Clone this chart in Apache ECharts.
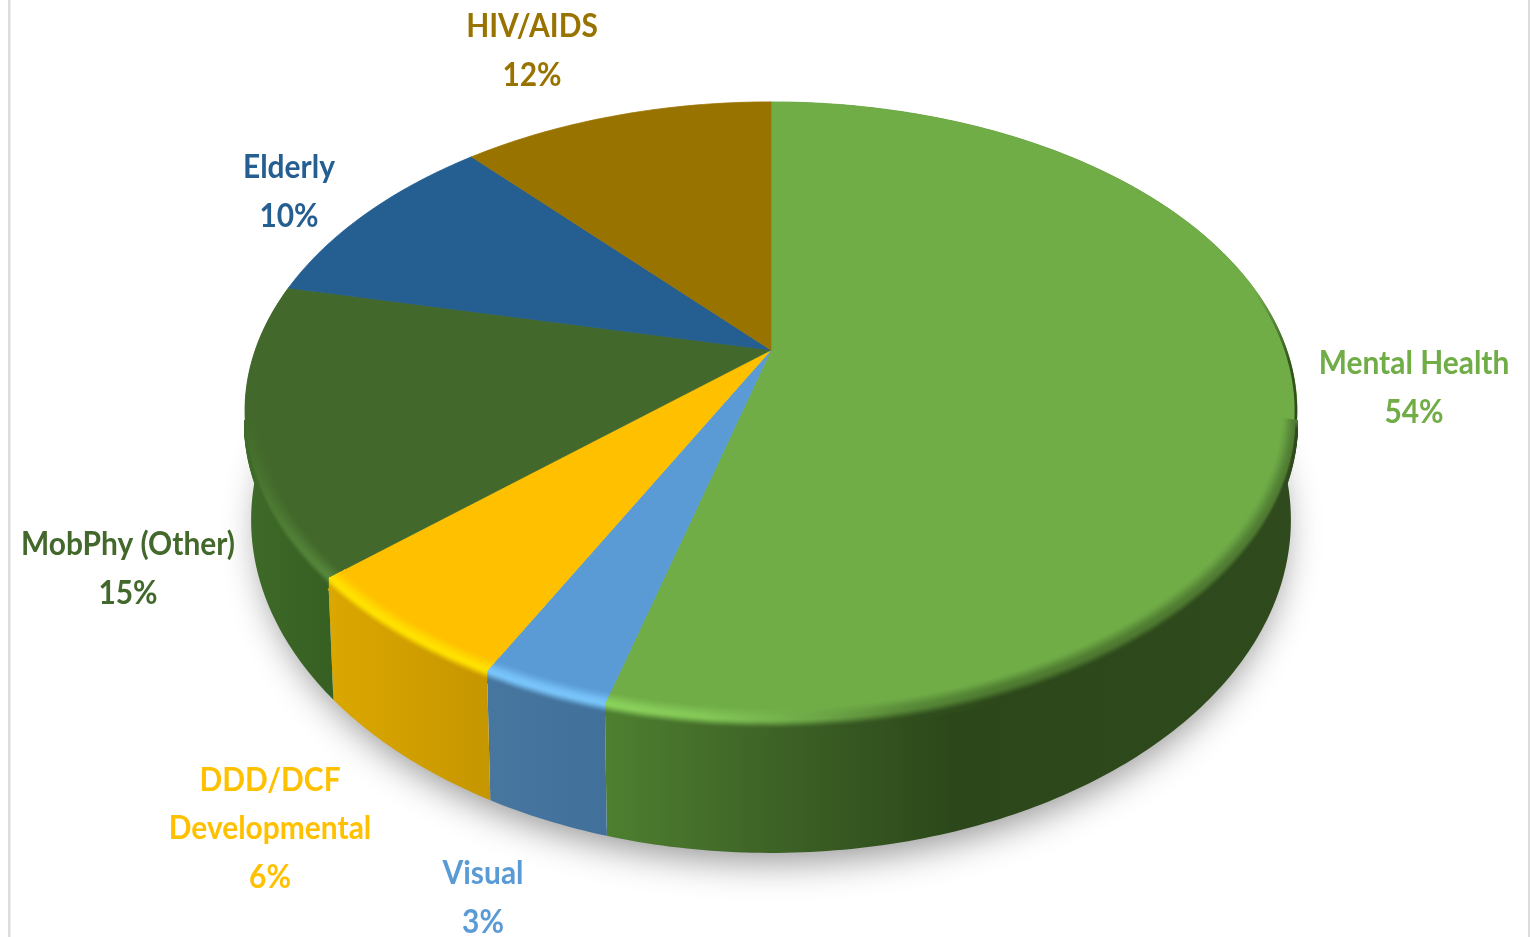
<!DOCTYPE html>
<html>
<head>
<meta charset="utf-8">
<title>Pie</title>
<style>html,body{margin:0;padding:0;background:#fff}#c{width:1530px;height:937px;filter:blur(0.6px)}</style>
<script src="https://cdn.jsdelivr.net/npm/echarts@6/dist/echarts.min.js"></script>
</head>
<body>
<div id="c"></div>
<script>
// ---- data (shares read from the wedges; the printed labels are these values rounded) ----
const categories = ['Mental Health', 'Visual', 'DDD/DCF\nDevelopmental', 'MobPhy (Other)', 'Elderly', 'HIV/AIDS'];
const percentages = [54.2, 3.3, 5.9, 15.1, 9.9, 11.6];

// ---- styles ----
const faceColors = ['#70AD47', '#5B9BD5', '#FFC000', '#43682B', '#255E91', '#997300'];
const glowColors = ['#8BD25C', '#78C4FA', '#FFE100', '#55873A', '#255E91', '#997300'];
const wallRamps = [
  [[0, '#4E8030'], [0.22, '#3F6527'], [0.5, '#2C481A'], [1, '#2F4A1C']],
  [[0, '#47769F'], [1, '#41709B']],
  [[0, '#DBA700'], [1, '#C69600']],
  [[0, '#3F6A28'], [1, '#365F22']],
  [[0, '#1C4A72'], [1, '#1C4A72']],
  [[0, '#735600'], [1, '#735600']]
];
const labelCenters = [[1414, 388], [483, 898], [270, 829], [128, 569], [289, 192], [532, 51]];

// ---- projection of the tilted disc ----
const CX = 771, TILT = 0.197;
const TOP = { y0: 350, a: 515.7, b: 297 };
const BOTTOM = { y0: 454.4, a: 509.7, b: 320 };
const rad = d => d * Math.PI / 180;
function project(ring, deg, r, dy) {
  const t = rad(deg), w = 1 + TILT * r * Math.cos(t);
  return [CX + ring.a * r * Math.sin(t) / w, ring.y0 - ring.b * r * Math.cos(t) / w + (dy || 0)];
}
function arc(ring, from, to, r, dy) {
  const pts = [], n = Math.max(2, Math.ceil(Math.abs(to - from) / 0.75));
  for (let i = 0; i <= n; i++) pts.push(project(ring, from + (to - from) * i / n, r, dy));
  return pts;
}
const total = percentages.reduce((s, v) => s + v, 0);
const startDeg = [];
percentages.reduce((acc, v, i) => { startDeg[i] = acc / total * 360; return acc + v; }, 0);

// ---- colour helpers ----
const rgb = h => [1, 3, 5].map(i => parseInt(h.substr(i, 2), 16));
const mix = (a, b, t) => { const A = rgb(a), B = rgb(b); return '#' + A.map((v, i) => Math.round(v + (B[i] - v) * t).toString(16).padStart(2, '0')).join(''); };
const clamp = v => Math.max(0, Math.min(1, v));
const smooth = v => { v = clamp(v); return v * v * (3 - 2 * v); };
function ramp(stops, t) {
  t = clamp(t);
  for (let i = 1; i < stops.length; i++) {
    if (t <= stops[i][0]) return mix(stops[i - 1][1], stops[i][1], (t - stops[i - 1][0]) / (stops[i][0] - stops[i - 1][0]));
  }
  return stops[stops.length - 1][1];
}
function glowAmount(deg) {
  if (deg < 195) return smooth((deg - 160) / 34);
  if (deg < 229) return 1;
  return 1 - clamp((deg - 229) / 28);
}

function renderSlice(params, api) {
  const i = params.dataIndex, value = api.value(0);
  const a0 = startDeg[i], a1 = a0 + value / total * 360;
  const children = [];

  // soft ground shadow, once
  if (i === 0) {
    children.push({
      type: 'polygon', z2: 0, shape: { points: arc(BOTTOM, 0, 360, 0.985) },
      style: { fill: '#ffffff', shadowBlur: 36, shadowColor: 'rgba(0,0,0,0.42)', shadowOffsetX: 1, shadowOffsetY: 16 }
    });
  }

  // wall
  const wallTop = arc(TOP, a0, a1, 1), wallBot = arc(BOTTOM, a1, a0, 1);
  const front0 = Math.max(a0, 90), front1 = Math.min(a1, 270);
  let wx0 = CX, wx1 = CX;
  if (front1 > front0) {
    const xs = arc(BOTTOM, front0, front1, 1).concat(arc(TOP, front0, front1, 1)).map(p => p[0]);
    wx0 = Math.min.apply(null, xs); wx1 = Math.max.apply(null, xs);
    const stops = wallRamps[i].map(s => ({ offset: s[0], color: s[1] }));
    children.push({
      type: 'polygon', z2: 1, shape: { points: wallTop.concat(wallBot) },
      style: {
        fill: { type: 'linear', global: true, x: wx0, y: 0, x2: wx1, y2: 0, colorStops: stops },
        stroke: 'rgba(0,0,0,0)', lineWidth: 0
      }
    });
  }

  // top face
  children.push({
    type: 'polygon', z2: 2, shape: { points: [[CX, TOP.y0]].concat(arc(TOP, a0, a1, 1)) },
    style: { fill: faceColors[i], stroke: faceColors[i], lineWidth: 0.8, lineJoin: 'round' }
  });

  // dark sliver where the wall starts to turn out of sight on the right
  if (a0 < 78 && a1 > 103) {
    const sliver = arc(TOP, 78, 103, 0.998);
    children.push({
      type: 'polyline', z2: 3, shape: { points: sliver },
      style: {
        fill: 'none', lineWidth: 2.6,
        stroke: {
          type: 'linear', global: true, x: 0, y: sliver[0][1], x2: 0, y2: sliver[sliver.length - 1][1],
          colorStops: [{ offset: 0, color: 'rgba(47,74,28,0)' }, { offset: 0.55, color: 'rgba(47,74,28,0.9)' }, { offset: 1, color: 'rgba(47,74,28,1)' }]
        }
      }
    });
  }

  // rounded rim: thin bands running across the bevel edge
  const b0 = Math.max(a0, 103), b1 = Math.min(a1, 257);
  if (b1 > b0) {
    const N = 22;
    for (let j = 0; j <= N; j++) {
      const s = -1 + 2 * j / N;
      const r = s < 0 ? 1 + 0.03 * s : 1;
      const dy = s > 0 ? 11 * s : 0;
      const pts = arc(TOP, b0, b1, r, dy);
      const xs = pts.map(p => p[0]);
      const xa = Math.min.apply(null, xs), xb = Math.max.apply(null, xs);
      const stops = [];
      for (let k = 0; k <= 10; k++) {
        const d = b0 + (b1 - b0) * k / 10, p = project(TOP, d, r, dy);
        const wall = ramp(wallRamps[i], (p[0] - wx0) / Math.max(1, wx1 - wx0));
        const mid = mix(faceColors[i], wall, 0.5);
        const peak = mix(mid, glowColors[i], glowAmount(d));
        const col = s <= 0 ? mix(faceColors[i], peak, smooth(1 + s * 1.05)) : mix(peak, wall, smooth(s * 1.1));
        stops.push({ offset: clamp((p[0] - xa) / Math.max(1, xb - xa)), color: col });
      }
      stops.sort((u, v) => u.offset - v.offset);
      children.push({
        type: 'polyline', z2: 3, shape: { points: pts },
        style: {
          fill: 'none', lineWidth: 2.4, lineCap: 'butt',
          stroke: { type: 'linear', global: true, x: xa, y: 0, x2: xb, y2: 0, colorStops: stops }
        }
      });
    }
  }

  // label
  children.push({
    type: 'text', z2: 6, x: labelCenters[i][0], y: labelCenters[i][1], scaleX: 0.935,
    style: {
      text: categories[i] + '\n' + Math.round(value) + '%',
      fill: faceColors[i], fontFamily: 'Lato', fontSize: 32, fontWeight: 700,
      lineHeight: 48.5, align: 'center', verticalAlign: 'middle'
    }
  });
  return { type: 'group', children: children };
}

const chart = echarts.init(document.getElementById('c'), null, { renderer: 'canvas' });
chart.setOption({
  animation: false,
  backgroundColor: '#ffffff',
  graphic: [
    { type: 'rect', shape: { x: 8, y: 0, width: 2.5, height: 937 }, style: { fill: '#DCDCDC' }, silent: true },
    { type: 'rect', shape: { x: 1528, y: 0, width: 2, height: 937 }, style: { fill: '#DCDCDC' }, silent: true }
  ],
  series: [{
    type: 'custom',
    coordinateSystem: 'none',
    silent: true,
    clip: false,
    renderItem: renderSlice,
    data: percentages.map((v, i) => ({ name: categories[i], value: [v] }))
  }]
});
</script>
</body>
</html>
